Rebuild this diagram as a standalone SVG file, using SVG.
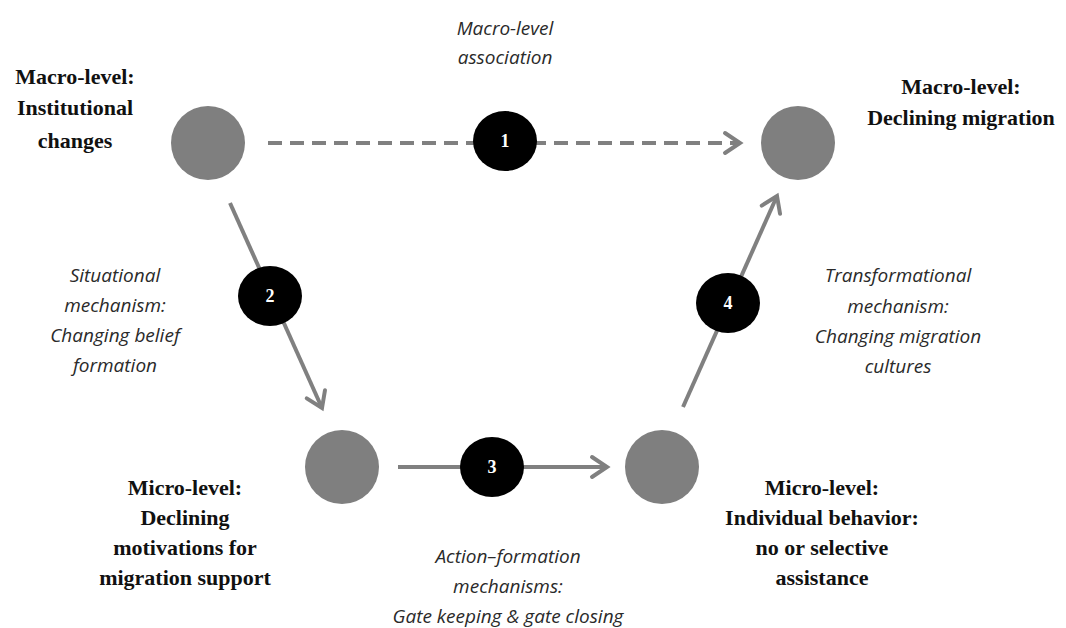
<svg xmlns="http://www.w3.org/2000/svg" width="1066" height="628" viewBox="0 0 1066 628">
<style>
.node{fill:#7f7f7f}
.lbl{font-family:"Liberation Serif",serif;font-weight:bold;font-size:22px;fill:#111;text-anchor:middle}
.mech{font-family:"Open Sans","DejaVu Sans",sans-serif;font-style:italic;font-size:19px;fill:#2a2a2a;text-anchor:middle}
.edge{stroke:#808080;stroke-width:4;fill:none}
.badge{fill:#000}
.num{font-family:"Liberation Serif",serif;font-weight:bold;font-size:18px;fill:#fff;text-anchor:middle}
</style>
<defs>
<marker id="arr" markerUnits="userSpaceOnUse" markerWidth="30" markerHeight="30" viewBox="-20 -15 30 30" refX="0" refY="0" orient="auto">
<path d="M-15,-10 L0,0 L-15,10" stroke="#808080" stroke-width="4" fill="none" stroke-linecap="round" stroke-linejoin="miter"/>
</marker>
</defs>
<rect width="1066" height="628" fill="#fff"/>
<g id="connectors">
<line class="edge" x1="268" y1="143" x2="740" y2="143" stroke-dasharray="14 8" marker-end="url(#arr)"/>
<line class="edge" x1="230" y1="203" x2="322" y2="408" marker-end="url(#arr)"/>
<line class="edge" x1="398" y1="467" x2="607" y2="467" marker-end="url(#arr)"/>
<line class="edge" x1="683" y1="407" x2="777" y2="196" marker-end="url(#arr)"/>
<g id="badge1"><ellipse class="badge" cx="505" cy="141" rx="32" ry="30"/><text class="num" x="505" y="147">1</text></g>
<g id="badge2"><ellipse class="badge" cx="270" cy="296" rx="32" ry="30"/><text class="num" x="270" y="302">2</text></g>
<g id="badge3"><ellipse class="badge" cx="492" cy="467" rx="32" ry="30"/><text class="num" x="492" y="473">3</text></g>
<g id="badge4"><ellipse class="badge" cx="728" cy="303" rx="32" ry="30"/><text class="num" x="728" y="309">4</text></g>
<text class="mech" x="505" y="35">Macro-level</text>
<text class="mech" x="505" y="64">association</text>
<text class="mech" x="115" y="282">Situational</text>
<text class="mech" x="115" y="312">mechanism:</text>
<text class="mech" x="115" y="342">Changing belief</text>
<text class="mech" x="115" y="372">formation</text>
<text class="mech" x="898" y="282">Transformational</text>
<text class="mech" x="898" y="313">mechanism:</text>
<text class="mech" x="898" y="343">Changing migration</text>
<text class="mech" x="898" y="373">cultures</text>
<text class="mech" x="508" y="563">Action–formation</text>
<text class="mech" x="508" y="593">mechanisms:</text>
<text class="mech" x="508" y="623">Gate keeping &amp; gate closing</text>
</g>
<g id="macro-institutional">
<circle class="node" cx="208" cy="143" r="37"/>
<text class="lbl" x="75" y="84">Macro-level:</text>
<text class="lbl" x="75" y="115">Institutional</text>
<text class="lbl" x="75" y="148">changes</text>
</g>
<g id="macro-declining">
<circle class="node" cx="798" cy="143" r="37"/>
<text class="lbl" x="961" y="94">Macro-level:</text>
<text class="lbl" x="961" y="125">Declining migration</text>
</g>
<g id="micro-motivations">
<circle class="node" cx="342" cy="467" r="37"/>
<text class="lbl" x="185" y="495">Micro-level:</text>
<text class="lbl" x="185" y="525">Declining</text>
<text class="lbl" x="185" y="555">motivations for</text>
<text class="lbl" x="185" y="585">migration support</text>
</g>
<g id="micro-behavior">
<circle class="node" cx="662" cy="467" r="37"/>
<text class="lbl" x="822" y="495">Micro-level:</text>
<text class="lbl" x="822" y="525">Individual behavior:</text>
<text class="lbl" x="822" y="555">no or selective</text>
<text class="lbl" x="822" y="585">assistance</text>
</g>
</svg>
